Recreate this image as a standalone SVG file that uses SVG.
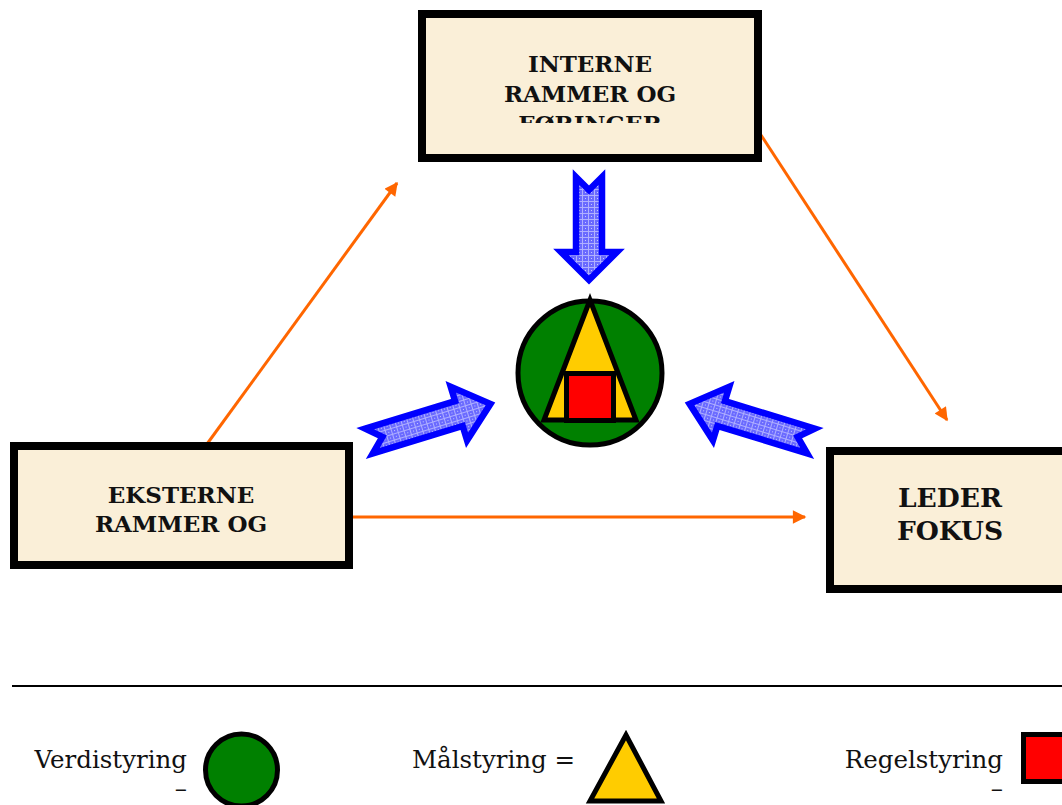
<svg xmlns="http://www.w3.org/2000/svg" width="1062" height="805" viewBox="0 0 1062 805">
  <defs>
    <style>
      .box { fill: #FAEFD8; stroke: #000; stroke-width: 8; }
      .label { font-family: "DejaVu Serif", "Liberation Serif", serif; font-weight: bold; fill: #111; text-anchor: middle; }
      .legend { font-family: "DejaVu Serif", "Liberation Serif", serif; font-size: 24.5px; fill: #111; }
      .flow { fill: none; stroke: #FF6600; stroke-width: 3; }
      .push { fill: url(#dots); stroke: #0000FF; stroke-width: 6.5; stroke-linejoin: miter; }
      .shape { stroke: #000; stroke-width: 5; }
    </style>
    <pattern id="dots" width="6" height="6" patternUnits="userSpaceOnUse">
      <rect width="6" height="6" fill="#6A6AFF"/>
      <rect x="0" y="0" width="6" height="1" fill="#B0B0FF"/>
      <rect x="0" y="0" width="1" height="6" fill="#B0B0FF"/>
      <rect x="3" y="3" width="1" height="1" fill="#C8C8FF"/>
    </pattern>
    <marker id="head" viewBox="0 0 10 10" refX="9" refY="5" markerWidth="5" markerHeight="4.5" orient="auto" markerUnits="strokeWidth">
      <path d="M0,0 L10,5 L0,10 Z" fill="#FF6600"/>
    </marker>
    <clipPath id="clipTop">
      <rect x="440" y="40" width="300" height="83"/>
    </clipPath>
    <!-- block arrow pointing along +x, tail at 0 -->
    <path id="pushShort" d="M0,-13 L75,-13 L75,-28 L103,0 L75,28 L75,13 L0,13 L13,0 Z"/>
    <path id="pushLong" d="M0,-13 L94,-13 L94,-28 L127,0 L94,28 L94,13 L0,13 L14,0 Z"/>
  </defs>

  <!-- connectors -->
  <g id="connectors">
    <line class="flow" x1="207" y1="444" x2="397" y2="183" marker-end="url(#head)"/>
    <line class="flow" x1="761" y1="135" x2="947" y2="420" marker-end="url(#head)"/>
    <line class="flow" x1="353" y1="517" x2="805" y2="517" marker-end="url(#head)"/>
    <use href="#pushShort" class="push" transform="translate(589,177) rotate(90)"/>
    <use href="#pushLong" class="push" transform="translate(369,441) rotate(-17)"/>
    <use href="#pushLong" class="push" transform="translate(811,441) rotate(-163)"/>
  </g>

  <!-- upper box -->
  <g id="interne">
    <rect class="box" x="422" y="14" width="336" height="144"/>
    <g clip-path="url(#clipTop)">
      <text class="label" font-size="23" x="590" y="72">INTERNE</text>
      <text class="label" font-size="23" x="590" y="102">RAMMER OG</text>
      <text class="label" font-size="23" x="590" y="132">FØRINGER</text>
    </g>
  </g>

  <!-- left box -->
  <g id="eksterne">
    <rect class="box" x="14" y="446" width="335" height="119"/>
    <text class="label" font-size="23" x="181" y="503">EKSTERNE</text>
    <text class="label" font-size="23" x="181" y="532">RAMMER OG</text>
  </g>

  <!-- right box -->
  <g id="leder">
    <rect class="box" x="830" y="451" width="240" height="138"/>
    <text class="label" font-size="26.5" x="950" y="507">LEDER</text>
    <text class="label" font-size="26.5" x="950" y="540">FOKUS</text>
  </g>

  <!-- centre symbol -->
  <g id="styring">
    <circle class="shape" cx="590" cy="373" r="72" fill="#008000"/>
    <polygon class="shape" points="590,300 544,420 636,420" fill="#FFCC00"/>
    <rect class="shape" x="566.5" y="373.5" width="47" height="47" fill="#FF0000"/>
  </g>

  <!-- legend -->
  <g id="legend">
    <line x1="12" y1="686" x2="1062" y2="686" stroke="#000" stroke-width="2"/>
    <text class="legend" x="187" y="768" text-anchor="end">Verdistyring</text>
    <text class="legend" x="187" y="797" text-anchor="end">–</text>
    <circle class="shape" cx="241.5" cy="770" r="36" fill="#008000"/>
    <text class="legend" x="412" y="768">Målstyring =</text>
    <polygon class="shape" points="626,735 590,801 661,801" fill="#FFCC00"/>
    <text class="legend" x="1003" y="768" text-anchor="end">Regelstyring</text>
    <text class="legend" x="1003" y="797" text-anchor="end">–</text>
    <rect class="shape" x="1023.5" y="734.5" width="50" height="47" fill="#FF0000"/>
  </g>
</svg>
